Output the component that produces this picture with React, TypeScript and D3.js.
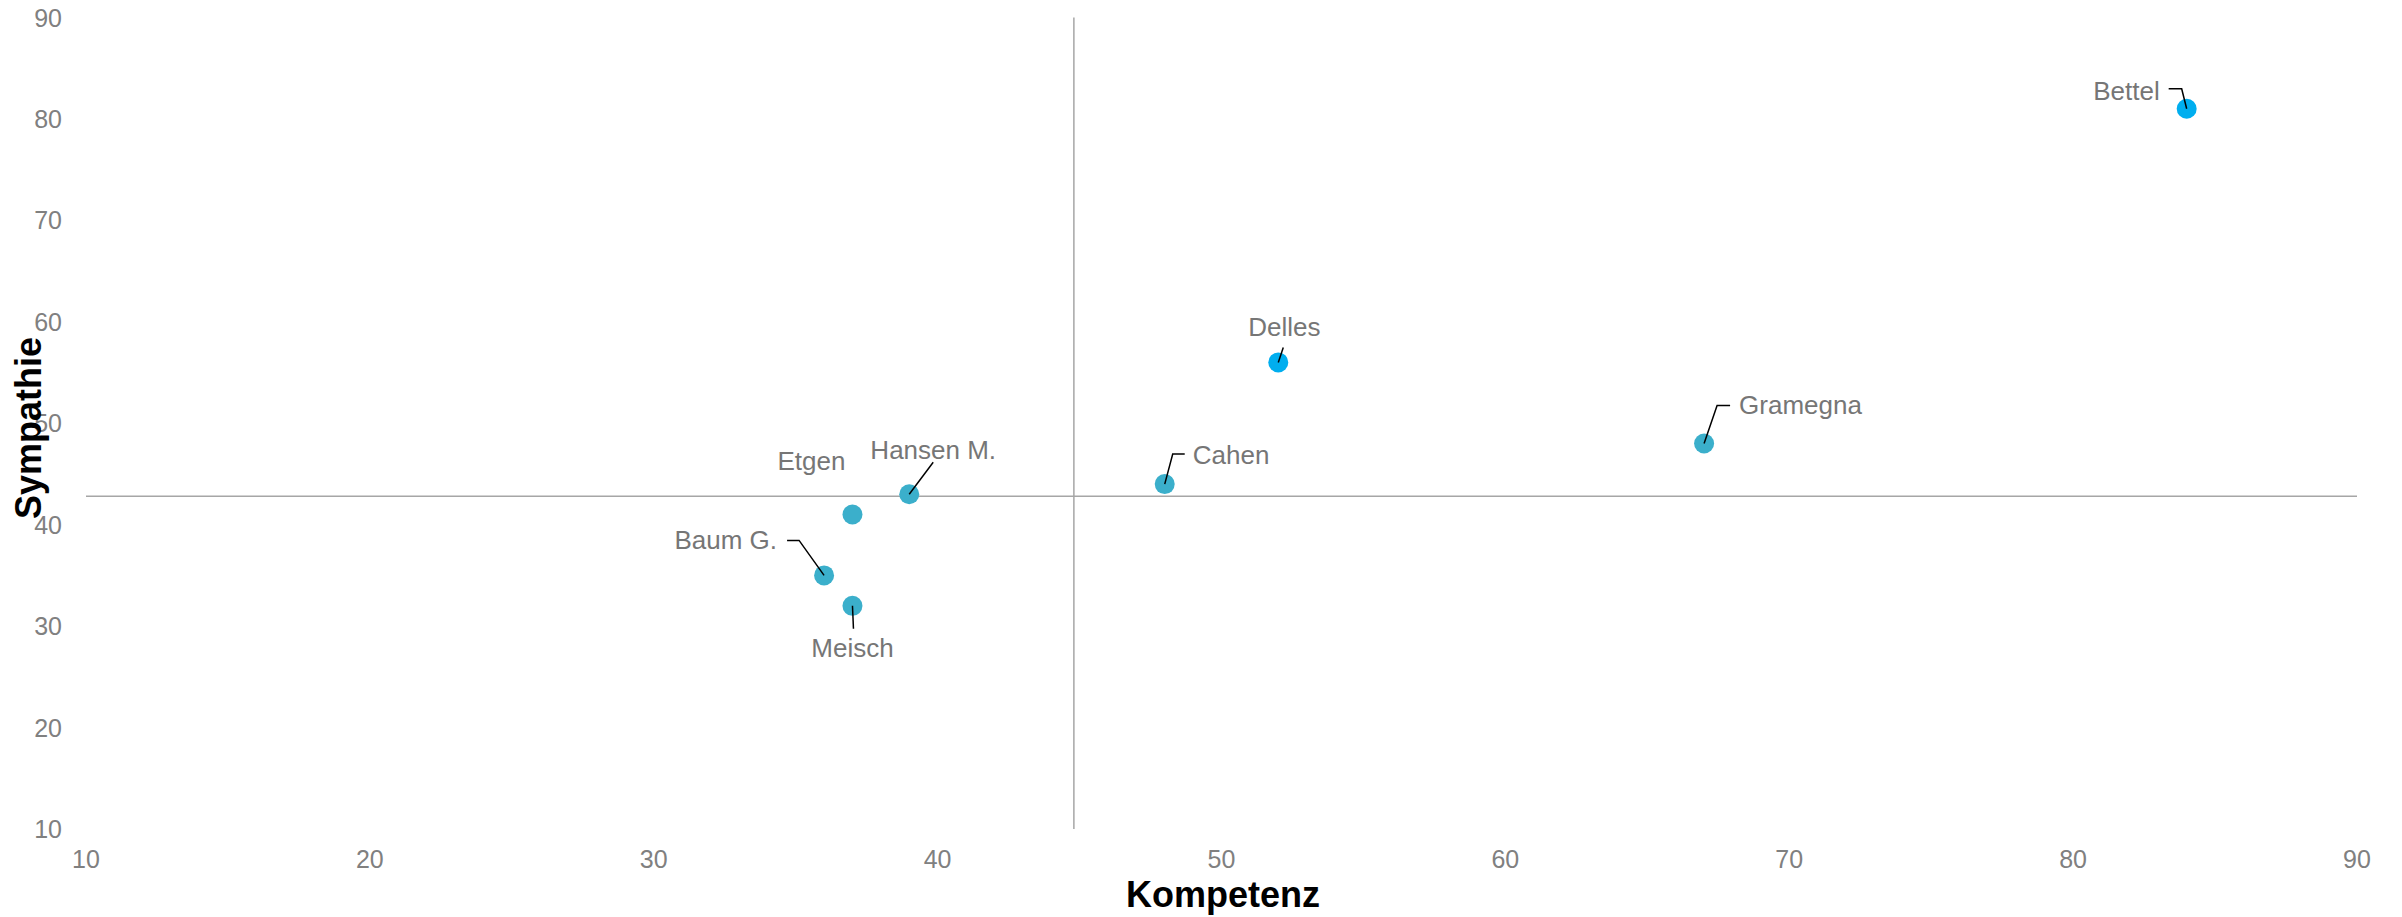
import React from "react";
import * as d3 from "d3";

// ---- data ----
const names = ["Bettel", "Delles", "Cahen", "Gramegna", "Hansen M.", "Etgen", "Baum G.", "Meisch"];
const kompetenz = [84, 52, 48, 67, 39, 37, 36, 37];
const sympathie = [81, 56, 44, 48, 43, 41, 35, 32];
const highlighted = [true, true, false, false, false, false, false, false];
const xTicks = [10, 20, 30, 40, 50, 60, 70, 80, 90];
const yTicks = [10, 20, 30, 40, 50, 60, 70, 80, 90];
const xRef = 44.8;
const yRef = 42.8;

// ---- label layout (pixel offsets from the point) ----
type Lab = { dx: number; dy: number; anchor: string; leader: [number, number][] };
const labelLayout: Lab[] = [
  { dx: -27, dy: -9, anchor: "end", leader: [[-18, -20], [-5, -20], [0, 0]] },
  { dx: 6, dy: -26, anchor: "middle", leader: [[5, -15], [0, 0]] },
  { dx: 28, dy: -20, anchor: "start", leader: [[20, -30], [8, -30], [0, 0]] },
  { dx: 35, dy: -29.5, anchor: "start", leader: [[26, -38], [13, -38], [0, 0]] },
  { dx: 24, dy: -35, anchor: "middle", leader: [[24, -32], [0, 0]] },
  { dx: -41, dy: -45, anchor: "middle", leader: [] },
  { dx: -47, dy: -26, anchor: "end", leader: [[-37, -35], [-25, -35], [0, 0]] },
  { dx: 0, dy: 51, anchor: "middle", leader: [[0, 0], [1, 23]] },
];

const W = 2402;
const H = 917;
const FONT = "'Liberation Sans', Arial, sans-serif";

export default function App() {
  const x = d3.scaleLinear().domain([10, 90]).range([86, 2357]);
  const y = d3.scaleLinear().domain([10, 90]).range([829, 17.5]);
  const line = d3.line<[number, number]>();

  return (
    <div style={{ position: "absolute", left: 0, top: 0 }}>
      <svg width={W} height={H} style={{ display: "block", background: "#fff" }} fontFamily={FONT}>
        {/* reference lines */}
        <line x1={x(xRef)} x2={x(xRef)} y1={y(90)} y2={y(10)} stroke="#a6a6a6" strokeWidth={1.5} />
        <line x1={x(10)} x2={x(90)} y1={y(yRef)} y2={y(yRef)} stroke="#a6a6a6" strokeWidth={1.5} />

        {/* y tick labels */}
        {yTicks.map((t) => (
          <text key={"y" + t} x={62} y={y(t)} dy="0.36em" textAnchor="end" fontSize={25} fill="#808080">
            {t}
          </text>
        ))}
        {/* x tick labels */}
        {xTicks.map((t) => (
          <text key={"x" + t} x={x(t)} y={868} textAnchor="middle" fontSize={25} fill="#808080">
            {t}
          </text>
        ))}

        {/* axis titles */}
        <text x={1223} y={907} textAnchor="middle" fontSize={36} fontWeight="bold" fill="#000">
          Kompetenz
        </text>
        <text
          transform={`translate(41, ${428}) rotate(-90)`}
          textAnchor="middle"
          fontSize={36}
          fontWeight="bold"
          fill="#000"
        >
          Sympathie
        </text>

        {/* points */}
        {names.map((n, i) => (
          <circle
            key={"c" + n}
            cx={x(kompetenz[i])}
            cy={y(sympathie[i])}
            r={10}
            fill={highlighted[i] ? "#00aeef" : "#3bafcb"}
          />
        ))}

        {/* leaders and labels */}
        {names.map((n, i) => {
          const px = x(kompetenz[i]);
          const py = y(sympathie[i]);
          const L = labelLayout[i];
          const pts = L.leader.map(([a, b]) => [px + a, py + b] as [number, number]);
          return (
            <g key={"l" + n}>
              {pts.length > 1 && <path d={line(pts) || ""} fill="none" stroke="#000" strokeWidth={1.5} />}
              <text x={px + L.dx} y={py + L.dy} textAnchor={L.anchor} fontSize={26} fill="#767676">
                {n}
              </text>
            </g>
          );
        })}
      </svg>
    </div>
  );
}
